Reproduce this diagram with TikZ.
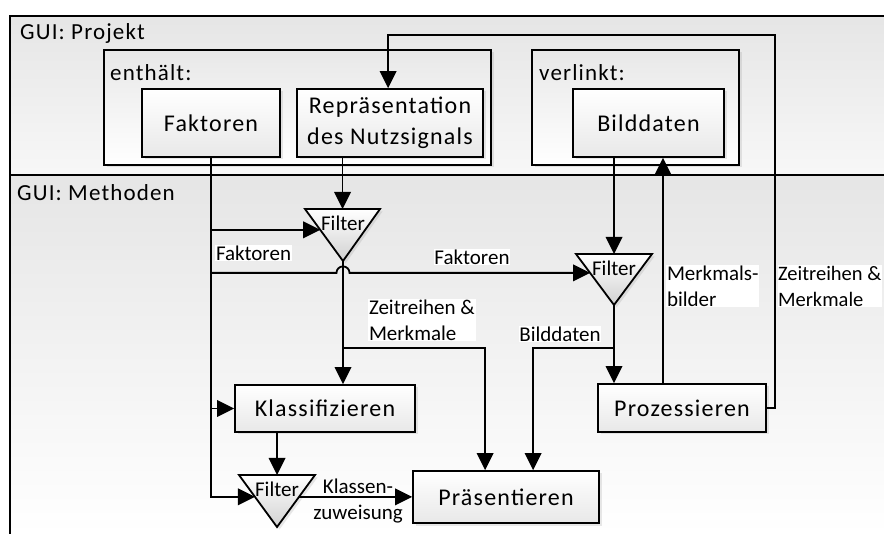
\documentclass[tikz,border=0pt]{standalone}
\usepackage{fontspec}
\setmainfont{Carlito}
\newfontfamily\boxfamily{Carlito}[LetterSpace=5]
\newfontfamily\lblfamily{Carlito}
\usetikzlibrary{arrows.meta,shadows,calc}
\begin{document}
\begin{tikzpicture}[x=1pt,y=-1pt,
  ln/.style={line width=1.8pt},
  arr/.style={ln,-{Triangle[length=17pt,width=17pt,line width=0pt]}},
  shd/.style={drop shadow={opacity=0.18,shadow xshift=2.5pt,shadow yshift=-2.5pt}},
  box/.style={draw,ln,rectangle,top color=white,bottom color=black!9,shd,inner sep=0pt,
    font=\boxfamily\fontsize{24}{31}\selectfont,align=center},
  grp/.style={draw,ln,rectangle,top color=black!9,bottom color=white,shd,inner sep=0pt},
  hdr/.style={font=\boxfamily\fontsize{23}{28}\selectfont,inner sep=0pt,anchor=west},
  lbl/.style={font=\lblfamily\fontsize{21}{26}\selectfont,inner sep=0.8pt,fill=white,align=left},
  tri/.style={ln,top color=white,bottom color=black!18,shd},
  tritxt/.style={font=\lblfamily\fontsize{21}{26}\selectfont,inner sep=0pt}
]
\useasboundingbox (0,0) rectangle (884,534);
% panels
\path[top color=black!10,bottom color=black!3] (10,16) rectangle (884,175);
\path[top color=black!10,bottom color=white] (10,175) rectangle (884,534);
\draw[ln] (884,16) -- (10,16) -- (10,534);
\draw[ln] (10,175) -- (884,175);
\node[hdr] (gp) at (20,33) {GUI: Projekt};
\node[hdr] (gm) at (17,193) {GUI: Methoden};
% groups
\node[grp,minimum width=387pt,minimum height=115pt] (enth) at (297.5,107.5) {};
\node[hdr] (enthl) at (110,73) {enthält:};
\node[grp,minimum width=207pt,minimum height=115pt] (verl) at (635.5,107.5) {};
\node[hdr] (verll) at (539,73) {verlinkt:};
% boxes
\node[box,minimum width=138pt,minimum height=68pt] (fak) at (211,123) {Faktoren};
\node[box,minimum width=186pt,minimum height=68pt] (rep) at (390,123) {Repräsentation\\des Nutzsignals};
\node[box,minimum width=151pt,minimum height=68pt] (bild) at (648.5,123) {Bilddaten};
\node[box,minimum width=180pt,minimum height=47pt] (klass) at (325,408.5) {Klassifizieren};
\node[box,minimum width=168pt,minimum height=48pt] (proz) at (682,408) {Prozessieren};
\node[box,minimum width=186pt,minimum height=52pt] (praes) at (506,497) {Präsentieren};
% filters
\coordinate (f1tl) at (305,209); \coordinate (f1tr) at (380,209); \coordinate (f1b) at (343,261);
\coordinate (f2tl) at (576,254); \coordinate (f2tr) at (652,254); \coordinate (f2b) at (614,305);
\coordinate (f3tl) at (239,475); \coordinate (f3tr) at (315,475); \coordinate (f3b) at (277,527);
\draw[tri] (f1tl) -- (f1tr) -- (f1b) -- cycle;
\draw[tri] (f2tl) -- (f2tr) -- (f2b) -- cycle;
\draw[tri] (f3tl) -- (f3tr) -- (f3b) -- cycle;
\node[tritxt] (f1t) at (343,223) {Filter};
\node[tritxt] (f2t) at (614,268) {Filter};
\node[tritxt] (f3t) at (277,489) {Filter};
\coordinate (f1top) at ($(f1tl)!0.5!(f1tr)$);
\coordinate (f2top) at ($(f2tl)!0.5!(f2tr)$);
\coordinate (f3top) at ($(f3tl)!0.5!(f3tr)$);
\coordinate (f1in) at ($(f1tl)!0.4!(f1b)$);
\coordinate (f2in) at ($(f2tl)!0.37!(f2b)$);
\coordinate (f3in) at ($(f3tl)!0.42!(f3b)$);
\coordinate (f3out) at ($(f3tr)!0.42!(f3b)$);
\coordinate (zm) at (343,348);
\coordinate (bd) at (614,348);
\coordinate (mb) at (663,384);
\coordinate (loopc) at (775,35);
% connectors
\draw[arr] (fak.south) |- (f3in);
\draw[arr] (fak.south |- f1in) -- (f1in);
\draw[arr] (fak.south |- klass.west) -- (klass.west);
\draw[arr] (rep.south -| f1top) -- (f1top);
\draw[arr] (f1b) -- (f1b |- klass.north);
\draw[arr] (fak.south |- f2in) -- ($(f1b |- f2in)+(-6.5,0)$) arc[start angle=180,end angle=0,radius=6.5pt] -- (f2in);
\draw[arr] (zm) -| ($(praes.north west)+(73,0)$);
\draw[arr] (bild.south -| f2top) -- (f2top);
\draw[arr] (f2b) -- (f2b |- proz.north);
\draw[arr] (bd) -| ($(praes.north west)+(121,0)$);
\draw[arr] (mb) -- (mb |- bild.south);
\draw[arr] (proz.east) -| (loopc) -| ($(rep.north west)+(92,0)$);
\draw[arr] (klass.south -| f3b) -- (f3top);
\draw[arr] (f3out) -- (praes.west |- f3out);
% labels
\node[lbl,anchor=west] (lf1) at (215,253) {Faktoren};
\node[lbl] (lf2) at (472,257) {Faktoren};
\node[lbl,anchor=west] (lzm) at (368,320) {Zeitreihen \&\\Merkmale};
\node[lbl] (lbd) at (560,334) {Bilddaten};
\node[lbl,anchor=west] (lmb) at (666,286) {Merkmals-\\bilder};
\node[lbl,anchor=west,font=\lblfamily\fontsize{20.5}{26}\selectfont,inner sep=0.4pt] (lzr) at (777.5,286) {Zeitreihen \&\\Merkmale};
\node[lbl,fill=none,align=center] (lkz) at (358,501) {Klassen-\\zuweisung};
\end{tikzpicture}
\end{document}
